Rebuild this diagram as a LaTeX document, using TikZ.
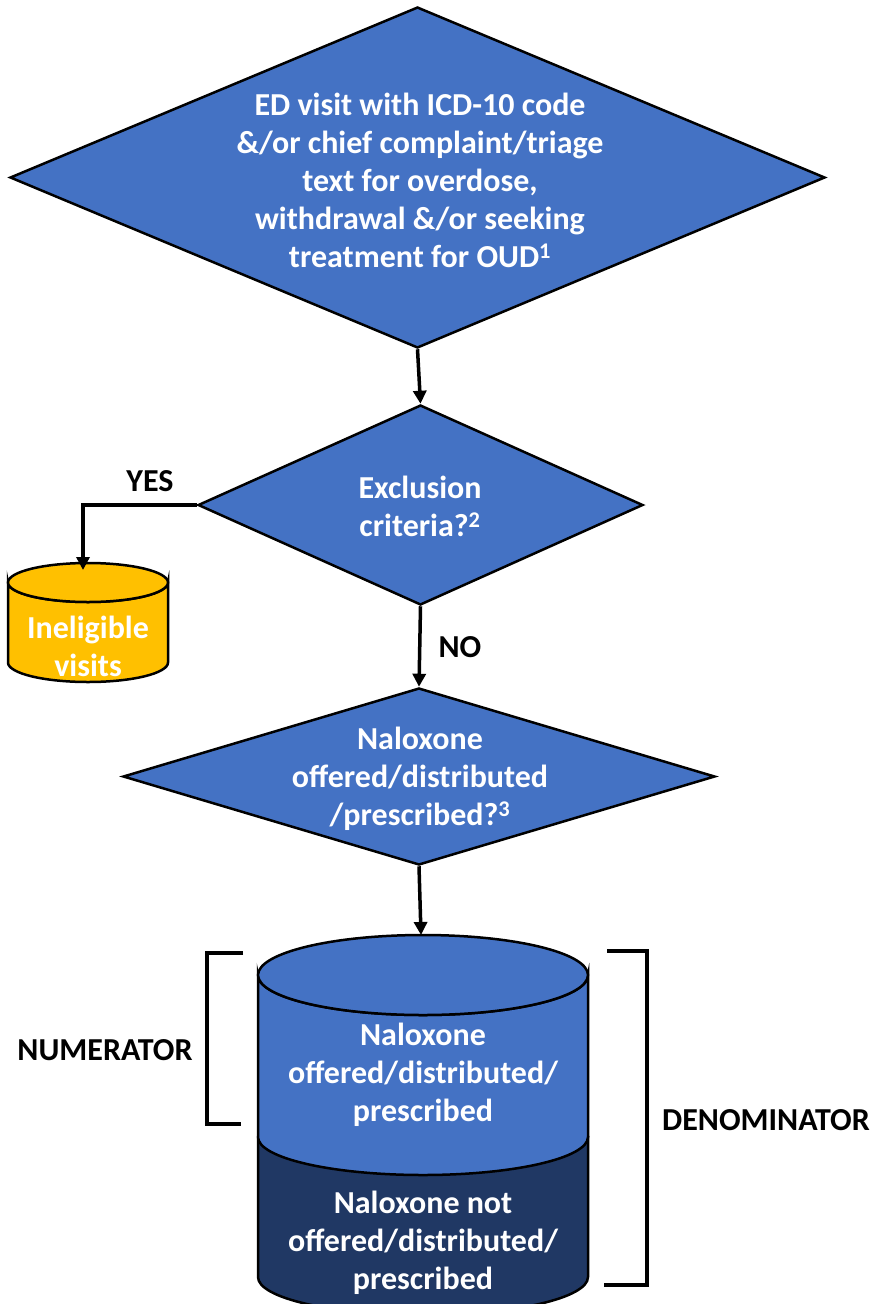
\documentclass[tikz,border=0pt]{standalone}
\usepackage{fontspec}
\setmainfont{Carlito}
\usepackage{tikz}
\usetikzlibrary{shapes.geometric, arrows.meta}
\definecolor{boxblue}{HTML}{4472C4}
\definecolor{darkblue}{HTML}{203864}
\definecolor{gold}{HTML}{FFC000}

\tikzset{
    decision/.style={diamond, draw, fill=boxblue, line width=2.5pt, inner sep=0pt},
    whitetext/.style={text=white, font=\bfseries\fontsize{32}{38}\selectfont, align=center},
    tagtext/.style={font=\bfseries\fontsize{32}{38}\selectfont},
    flow/.style={line width=3.5pt, -{Triangle[length=13pt, width=13pt]}},
    brace/.style={line width=3.5pt}
}

\begin{document}
\begin{tikzpicture}[x=1pt, y=-1pt]
    \useasboundingbox (0,0) rectangle (870,1304);

    % Decision diamonds
    \node[decision, minimum width=815, minimum height=341] (Visit) at (417.5,177.5) {};
    \node[decision, minimum width=445, minimum height=200] (Exclusion) at (420.5,505) {};
    \node[decision, minimum width=592, minimum height=177] (Naloxone) at (419,776.5) {};

    \node[whitetext] (VisitText) at (420,180) {ED visit with ICD-10 code\\ \&/or chief complaint/triage\\ text for overdose,\\ withdrawal \&/or seeking\\ treatment for OUD\textsuperscript{1}};
    \node[whitetext] (ExclusionText) at (420,506) {Exclusion\\ criteria?\textsuperscript{2}};
    \node[whitetext] (NaloxoneText) at (420,779) {Naloxone\\ offered/distributed\\ /prescribed?\textsuperscript{3}};

    % Ineligible visits cylinder
    \draw[line width=2.5pt, fill=gold] (8,582.5) -- (8,662.5) arc[start angle=180, end angle=0, x radius=80, y radius=19.5] -- (168,582.5) arc[start angle=0, end angle=180, x radius=80, y radius=19.5] -- cycle;
    \draw[line width=2.5pt, fill=gold] (88,582.5) ellipse [x radius=80, y radius=19.5];
    \node[whitetext] (IneligibleText) at (88,646) {Ineligible\\ visits};
    \coordinate (IneligibleTop) at (83,570);

    % Stacked result cylinder
    \draw[line width=2.5pt, fill=darkblue] (258,1137) -- (258,1277) arc[start angle=180, end angle=0, x radius=165, y radius=38] -- (588,1137) -- cycle;
    \draw[line width=2.5pt, fill=boxblue] (258,975) -- (258,1137) arc[start angle=180, end angle=0, x radius=165, y radius=38] -- (588,975) arc[start angle=0, end angle=180, x radius=165, y radius=40] -- cycle;
    \draw[line width=2.5pt, fill=boxblue] (423,975) ellipse [x radius=165, y radius=40];
    \node[whitetext] (OfferedText) at (423,1075) {Naloxone\\ offered/distributed/\\ prescribed};
    \node[whitetext] (NotOfferedText) at (423,1243) {Naloxone not\\ offered/distributed/\\ prescribed};
    \coordinate (ResultTop) at (421,935);

    % Flow arrows
    \draw[flow] (Visit.south) -- (Exclusion.north);
    \draw[flow] (Exclusion.west) -| (IneligibleTop);
    \draw[flow] (Exclusion.south) -- (Naloxone.north);
    \draw[flow] (Naloxone.south) -- (ResultTop);

    \node[tagtext] (Yes) at (150,481) {YES};
    \node[tagtext] (No) at (460,647) {NO};

    % Brackets
    \draw[brace] (243,953) -- (207,953) -- (207,1124) -- (241,1124);
    \draw[brace] (607,951) -- (647,951) -- (647,1285) -- (604,1285);
    \node[tagtext] (Numerator) at (105,1050) {NUMERATOR};
    \node[tagtext] (Denominator) at (766,1120) {DENOMINATOR};
\end{tikzpicture}
\end{document}
